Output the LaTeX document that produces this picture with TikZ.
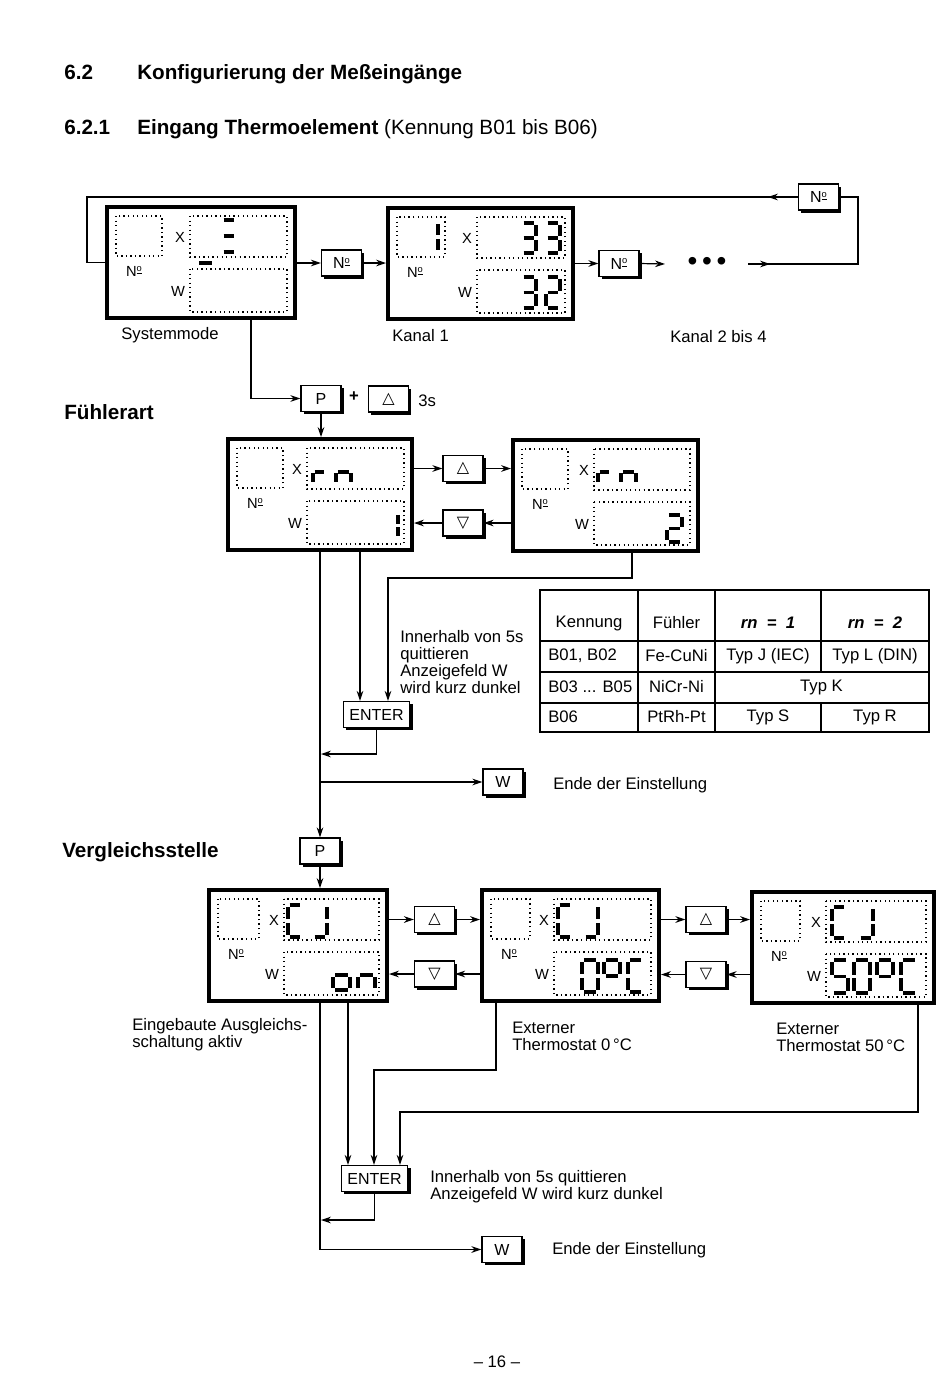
\documentclass[tikz,border=0pt]{standalone}
\usepackage{fontspec}
\setmainfont{Liberation Sans}
\newfontfamily\symfont{DejaVu Sans}
\usetikzlibrary{arrows.meta,positioning,fit,calc,shadows}
% Nummer-Zeichen wie auf der Tastatur
\newcommand\nr{N\raisebox{0.6ex}{\scriptsize\underline{o}}}
% 7-Segment-Ziffer: x, y, Breite, Hoehe, Segmente
\def\sega{(0.12,0)--(0.88,0)}
\def\segb{(1,0.07)--(1,0.44)}
\def\segc{(1,0.56)--(1,0.93)}
\def\segd{(0.12,1)--(0.88,1)}
\def\sege{(0,0.56)--(0,0.93)}
\def\segf{(0,0.07)--(0,0.44)}
\def\segg{(0.12,0.5)--(0.88,0.5)}
\newcommand\siebenseg[5]{%
  \begin{scope}[shift={(#1,#2)},xscale=#3,yscale=#4]
    \foreach \s in {#5}{\draw[segm] \csname seg\s\endcsname;}
  \end{scope}}
% Anzeige: Name, x, y, Breite, linker Rand der Felder, Breite Nummernfeld
\newcommand\anzeige[6]{%
  \node[anzeigebox,fit={(#2,#3) ({#2+#4},{#3+111})}] (#1) {};
  \begin{scope}[shift={(#2,#3)}]
    \draw[punkt] (9,9) rectangle ({9+#6},49);
    \draw[punkt] (#5,9) rectangle ({#4-8},50);
    \draw[punkt] (#5,62) rectangle ({#4-8},105);
    \node[klein] (#1x) at ({#5-10},30) {X};
    \node[klein] (#1n) at (27,64) {\nr};
    \node[klein] (#1w) at ({#5-12},84) {W};
  \end{scope}}

\begin{document}
\begin{tikzpicture}[x=0.75pt,y=-0.75pt,>={Stealth[length=7.5pt,width=5pt]},
  font=\fontsize{12.5}{12.75}\selectfont,
  verb/.style={line width=0.9pt},
  anzeigebox/.style={draw,line width=3pt,inner sep=0pt},
  punkt/.style={line width=1pt,dash pattern=on 1pt off 2.4pt},
  segm/.style={line width=2.4pt},
  klein/.style={font=\fontsize{11}{11}\selectfont,inner sep=0pt},
  taste/.style={draw,line width=0.9pt,fill=white,minimum width=30pt,minimum height=19.5pt,
    inner sep=2pt,font=\fontsize{12}{12}\selectfont,
    drop shadow={fill=black,opacity=1,shadow xshift=2.2pt,shadow yshift=-2.2pt}},
  titel/.style={font=\fontsize{15.5}{18}\selectfont\bfseries,anchor=base west,inner sep=0pt},
  txt/.style={anchor=west,align=left,inner sep=0pt}]
\useasboundingbox (0,0) rectangle (950,1379);

% Ueberschriften
\node[titel] (t62) at (64,79) {6.2};
\node[titel] (t62b) at (137,79) {Konfigurierung der Meßeingänge};
\node[titel] (t621) at (64,134) {6.2.1};
\node[titel] (t621b) at (137,134) {Eingang Thermoelement \mdseries(Kennung B01 bis B06)};

% Systemmode und Kanaele
\anzeige{sys}{107}{207}{188}{83}{46}
\siebenseg{222}{220}{14}{32}{a,g,d}
\draw[segm] (199,263) -- (212,263);
\anzeige{kanal}{388}{208}{185}{89}{48}
\siebenseg{426}{222}{12}{30}{b,c}
\siebenseg{522}{223}{14}{30}{a,b,g,c,d}
\siebenseg{546}{223}{14}{30}{a,b,g,c,d}
\siebenseg{522}{277}{14}{31}{a,b,g,c,d}
\siebenseg{546}{277}{14}{31}{a,b,g,e,d}
\node[taste] (nr1) at (341.5,263) {\nr};
\node[taste] (nr2) at (619,263.5) {\nr};
\node[taste] (nr3) at (818.5,197) {\nr};
\node (punkte) at (707,264) {\fontsize{21}{21}\selectfont\textbullet\,\textbullet\,\textbullet};
\coordinate (pfeilende) at (665,264);
\coordinate (pfeilstart) at (748,264);
\coordinate (rechts) at (858,264);
\coordinate (links) at (87,197);
\draw[verb,->] (sys.east |- nr1.west) -- (nr1.west);
\draw[verb,->] (nr1.east) -- (kanal.west |- nr1.east);
\draw[verb,->] (kanal.east |- nr2.west) -- (nr2.west);
\draw[verb,->] (nr2.east) -- (pfeilende);
\draw[verb] (pfeilstart) -- (rechts) |- (nr3.east);
\draw[verb,->] (pfeilstart) -- ++(22,0);
\draw[verb] (nr3.west) -- (links) |- (sys.west);
\draw[verb,->] (nr3.west) -- ++(-30,0);
\node (lsys) at (170,335) {Systemmode};
\node[txt] (lkanal) at (392,336) {Kanal 1};
\node[txt] (lkanal2) at (670,337) {Kanal 2 bis 4};

% Fuehlerart
\node[titel] (tfuehler) at (64,419) {Fühlerart};
\node[taste] (p1) at (321,398.5) {P};
\node (plus) at (354,397) {\bfseries +};
\node[taste] (auf0) at (388.5,399) {\symfont △};
\node[txt] (drei) at (418,401) {3s};
\draw[verb,->] ($(sys.south west)+(146,0)$) |- (p1.west);

\anzeige{fa}{228}{439}{184}{79}{46}
\siebenseg{313}{460}{13}{24}{e,g}
\siebenseg{336}{460}{15}{24}{e,g,c}
\siebenseg{386}{513}{12}{25}{b,c}
\anzeige{fb}{513}{440}{185}{81}{46}
\siebenseg{598}{460}{13}{24}{e,g}
\siebenseg{621}{460}{15}{24}{e,g,c}
\siebenseg{667}{515}{15}{27}{a,b,g,e,d}
\draw[verb,->] (p1.south) -- (p1.south |- fa.north);
\node[taste] (aufA) at (463,468.5) {\symfont △};
\node[taste] (abA) at (463,523) {\symfont ▽};
\draw[verb,->] (fa.east |- aufA) -- (aufA.west);
\draw[verb,->] (aufA.east) -- (fb.west |- aufA);
\draw[verb,->] (fb.west |- abA) -- (abA.east);
\draw[verb,->] (abA.west) -- (fa.east |- abA);

\node[taste,minimum width=50pt] (enter1) at (376.5,714.5) {ENTER};
\node[taste] (w1) at (503,782) {W};
\node[taste] (p2) at (320,851) {P};
\coordinate (abzweigA) at (360,550);
\coordinate (abzweigB) at (632,551);
\coordinate (knickB) at (388,578);
\coordinate (ruecksprungA) at (321,754);
\coordinate (abgangA) at (320,782);
\draw[verb,->] (p2.north |- fa.south) -- (p2.north);
\draw[verb,->] (abzweigA) -- (abzweigA |- enter1.north);
\draw[verb,->] (abzweigB) |- (knickB) -- (knickB |- enter1.north);
\draw[verb,->] (enter1.south) |- (ruecksprungA);
\draw[verb,->] (abgangA) -- (w1.west);
\node[txt] (hinweisA) at (400,662) {Innerhalb von 5s\\quittieren\\Anzeigefeld W\\wird kurz dunkel};
\node[txt] (endeA) at (553,785) {Ende der Einstellung};

% Tabelle
\draw[verb] (540,590) rectangle (929,732);
\draw[verb] (540,641) -- (929,641) (540,672) -- (929,672) (540,703) -- (929,703);
\draw[verb] (638,590) -- (638,732) (715,590) -- (715,732);
\draw[verb] (821,590) -- (821,672) (821,703) -- (821,732);
\node (k1) at (589,623) {Kennung};
\node (k2) at (676.5,623) {Fühler};
\node (k3) at (768,623) {\bfseries\itshape rn\ \ =\ \ 1};
\node (k4) at (875,623) {\bfseries\itshape rn\ \ =\ \ 2};
\node[txt] (z11) at (548,656) {B01, B02};
\node (z12) at (676.5,656) {Fe-CuNi};
\node (z13) at (768,656) {Typ J (IEC)};
\node (z14) at (875,656) {Typ L (DIN)};
\node[txt] (z21) at (548,687) {B03 ... B05};
\node (z22) at (676.5,687) {NiCr-Ni};
\node (z23) at (821.5,687) {Typ K};
\node[txt] (z31) at (548,717) {B06};
\node (z32) at (676.5,717) {PtRh-Pt};
\node (z33) at (768,717) {Typ S};
\node (z34) at (875,717) {Typ R};

% Vergleichsstelle
\node[titel] (tvergl) at (62,857) {Vergleichsstelle};
\anzeige{va}{209}{890}{178}{75}{41}
\siebenseg{288}{905}{14}{32}{a,f,e,d}
\siebenseg{313}{905}{14}{32}{b,c,d}
\siebenseg{333}{960}{17}{30}{g,c,d,e}
\siebenseg{358}{960}{17}{30}{g,e,c}
\anzeige{vb}{482}{890}{177}{72}{39}
\siebenseg{558}{905}{14}{32}{a,f,e,d}
\siebenseg{584}{905}{14}{32}{b,c,d}
\siebenseg{582}{960}{16}{32}{a,b,c,d,e,f}
\siebenseg{604}{960}{16}{32}{a,b,g,f}
\siebenseg{628}{960}{15}{32}{a,f,e,d}
\anzeige{vc}{752}{892}{182}{74}{39}
\siebenseg{832}{907}{14}{31}{a,f,e,d}
\siebenseg{859}{907}{14}{31}{b,c,d}
\siebenseg{832}{960}{16}{33}{a,f,g,c,d}
\siebenseg{854}{960}{16}{33}{a,b,c,d,e,f}
\siebenseg{877}{960}{16}{33}{a,b,g,f}
\siebenseg{901}{960}{16}{33}{a,f,e,d}
\draw[verb,->] (p2.south) -- (p2.south |- va.north);
\node[taste] (aufB) at (434.5,919.5) {\symfont △};
\node[taste] (abB) at (434.5,974) {\symfont ▽};
\node[taste] (aufC) at (706,919.5) {\symfont △};
\node[taste] (abC) at (706,974.5) {\symfont ▽};
\draw[verb,->] (va.east |- aufB) -- (aufB.west);
\draw[verb,->] (aufB.east) -- (vb.west |- aufB);
\draw[verb,->] (vb.west |- abB) -- (abB.east);
\draw[verb,->] (abB.west) -- (va.east |- abB);
\draw[verb,->] (vb.east |- aufC) -- (aufC.west);
\draw[verb,->] (aufC.east) -- (vc.west |- aufC);
\draw[verb,->] (vc.west |- abC) -- (abC.east);
\draw[verb,->] (abC.west) -- (vb.east |- abC);
\node[txt] (lva) at (132,1035) {Eingebaute Ausgleichs-\\schaltung aktiv};
\node[txt] (lvb) at (512,1036) {Externer\\Thermostat 0\,°C};
\node[txt] (lvc) at (776,1037) {Externer\\Thermostat 50\,°C};

\node[taste,minimum width=50pt] (enter2) at (374.5,1178.5) {ENTER};
\node[taste] (w2) at (502,1249.5) {W};
\coordinate (abzweigC) at (348,1001);
\coordinate (abzweigD) at (496,1002);
\coordinate (knickD) at (374,1070);
\coordinate (abzweigE) at (918,1003);
\coordinate (knickE) at (400,1112);
\coordinate (ruecksprungB) at (321,1220);
\draw[verb,->] (p2.south |- va.south) |- (w2.west);
\draw[verb,->] (abzweigC) -- (abzweigC |- enter2.north);
\draw[verb,->] (abzweigD) |- (knickD) -- (knickD |- enter2.north);
\draw[verb,->] (abzweigE) |- (knickE) -- (knickE |- enter2.north);
\draw[verb,->] (enter2.south) |- (ruecksprungB);
\node[txt] (hinweisB) at (430,1187) {Innerhalb von 5s quittieren\\Anzeigefeld W wird kurz dunkel};
\node[txt] (endeB) at (552,1250) {Ende der Einstellung};

\node (seite) at (497,1362) {-- 16 --};
\end{tikzpicture}
\end{document}
